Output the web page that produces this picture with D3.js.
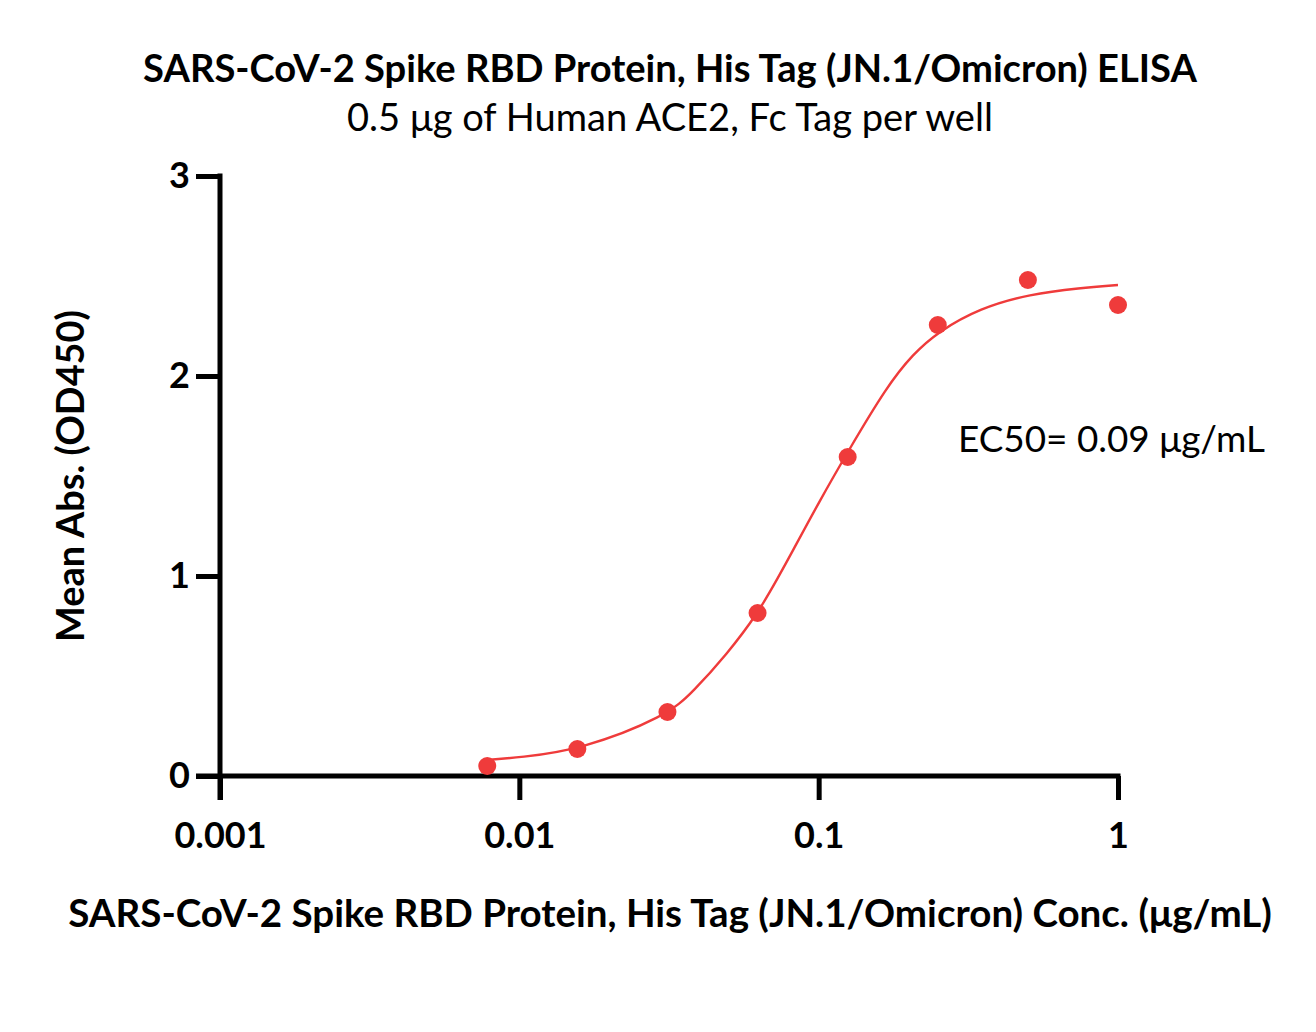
<!DOCTYPE html>
<html>
<head>
<meta charset="utf-8">
<script src="https://cdn.jsdelivr.net/npm/d3@7"></script>
<style>
  html, body { margin: 0; padding: 0; background: #fff; }
  svg { display: block; }
  text { font-family: Lato, "Open Sans", sans-serif; fill: #000; }
</style>
</head>
<body>
<svg id="chart" width="1316" height="1032"></svg>
<script>
// ---- data ----
const titleText = "SARS-CoV-2 Spike RBD Protein, His Tag (JN.1/Omicron) ELISA";
const subtitleText = "0.5 μg of Human ACE2, Fc Tag per well";
const xTitleText = "SARS-CoV-2 Spike RBD Protein, His Tag (JN.1/Omicron) Conc. (μg/mL)";
const yTitleText = "Mean Abs. (OD450)";
const ec50Text = "EC50= 0.09 μg/mL";

const concentrations = [0.0078125, 0.015625, 0.03125, 0.0625, 0.125, 0.25, 0.5, 1];
const absorbance     = [0.05, 0.135, 0.32, 0.815, 1.595, 2.255, 2.48, 2.355];

// fitted curve
const curveConc = [0.0078125, 0.0100, 0.01595, 0.0311, 0.0380, 0.0494, 0.0625, 0.0743, 0.0802, 0.1011, 0.125, 0.1693, 0.2067, 0.25, 0.346, 0.5085, 0.747, 1];
const curveAbs  = [0.08, 0.093, 0.13, 0.30, 0.42, 0.61, 0.81, 1.01, 1.10, 1.38, 1.62, 1.95, 2.11, 2.22, 2.34, 2.41, 2.44, 2.455];

const xTickValues = [0.001, 0.01, 0.1, 1];
const xTickLabels = ["0.001", "0.01", "0.1", "1"];
const yTickValues = [0, 1, 2, 3];
const yTickLabels = ["0", "1", "2", "3"];

// ---- layout ----
const red = "#EF3B3B";
const svg = d3.select("#chart");
const x = d3.scaleLog().domain([0.001, 1]).range([220, 1118]);
const y = d3.scaleLinear().domain([0, 3]).range([776, 176]);
const axisW = 5;
const tickLen = 24;

// fit text to a target width by adjusting font-size
function fitText(sel, targetWidth) {
  const node = sel.node();
  const fs = parseFloat(sel.attr("font-size"));
  const w = node.getComputedTextLength();
  sel.attr("font-size", (fs * targetWidth / w).toFixed(2));
}

// titles
fitText(svg.append("text").attr("x", 670).attr("y", 82).attr("text-anchor", "middle")
  .attr("font-weight", "bold").attr("font-size", 34).text(titleText), 1054);
fitText(svg.append("text").attr("x", 670).attr("y", 131).attr("text-anchor", "middle")
  .attr("font-size", 32).text(subtitleText), 646);

// y axis
const yAxis = d3.axisLeft(y).tickValues(yTickValues)
  .tickFormat((d, i) => yTickLabels[i]).tickSize(tickLen).tickSizeOuter(0);
const gy = svg.append("g").attr("transform", "translate(220,0)").call(yAxis);
gy.select(".domain").remove();
gy.selectAll(".tick line").attr("stroke", "#000").attr("stroke-width", axisW);
gy.selectAll(".tick text").attr("x", -30).attr("font-size", 36).attr("font-weight", "bold")
  .attr("font-family", "Lato, sans-serif").attr("fill", "#000");
svg.append("line").attr("x1", 220).attr("x2", 220)
  .attr("y1", y(3) - axisW / 2).attr("y2", y(0) + tickLen)
  .attr("stroke", "#000").attr("stroke-width", axisW);

// x axis
const xAxis = d3.axisBottom(x).tickValues(xTickValues)
  .tickFormat((d, i) => xTickLabels[i]).tickSize(tickLen).tickSizeOuter(0);
const gx = svg.append("g").attr("transform", `translate(0,${y(0)})`).call(xAxis);
gx.select(".domain").remove();
gx.selectAll(".tick line").attr("stroke", "#000").attr("stroke-width", axisW);
gx.selectAll(".tick text").attr("y", 46).attr("dy", "0.71em").attr("font-size", 36).attr("font-weight", "bold")
  .attr("font-family", "Lato, sans-serif").attr("fill", "#000");
svg.append("line").attr("x1", 220 - tickLen).attr("x2", x(1) + axisW / 2)
  .attr("y1", y(0)).attr("y2", y(0))
  .attr("stroke", "#000").attr("stroke-width", axisW);

// axis titles
fitText(svg.append("text").attr("x", 670).attr("y", 927).attr("text-anchor", "middle")
  .attr("font-weight", "bold").attr("font-size", 34).text(xTitleText), 1204);
fitText(svg.append("text").attr("transform", "translate(84,476) rotate(-90)").attr("text-anchor", "middle")
  .attr("font-weight", "bold").attr("font-size", 34).text(yTitleText), 332);

// curve
const curveData = curveConc.map((c, i) => ({ c, v: curveAbs[i] }));
svg.append("path").datum(curveData)
  .attr("fill", "none").attr("stroke", red).attr("stroke-width", 2.4)
  .attr("d", d3.line().x(d => x(d.c)).y(d => y(d.v)).curve(d3.curveBasis));

// points
const pts = concentrations.map((c, i) => ({ c, v: absorbance[i] }));
svg.append("g").selectAll("circle").data(pts).join("circle")
  .attr("cx", d => x(d.c)).attr("cy", d => y(d.v)).attr("r", 9).attr("fill", red);

// EC50 annotation
fitText(svg.append("text").attr("x", 958).attr("y", 452).attr("font-size", 32).text(ec50Text), 307);
</script>
</body>
</html>
